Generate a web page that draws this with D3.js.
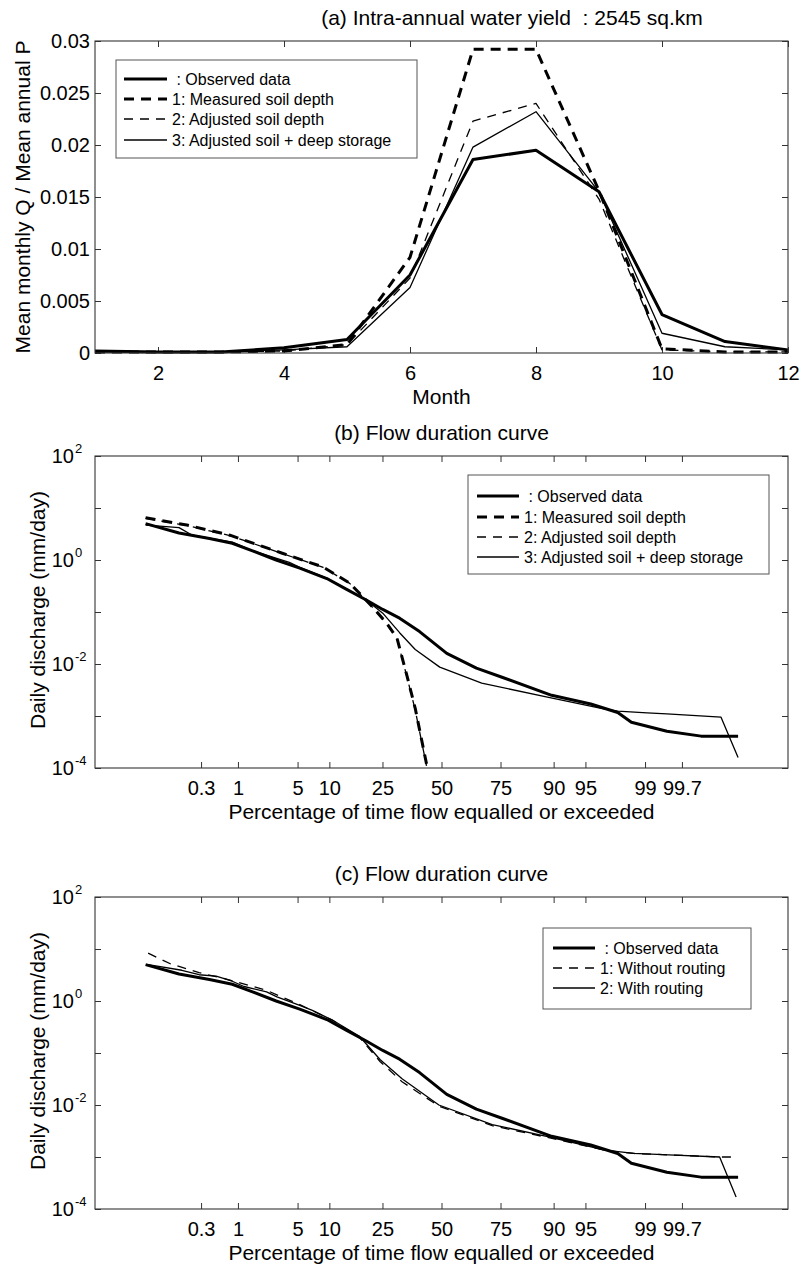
<!DOCTYPE html>
<html>
<head>
<meta charset="utf-8">
<script src="https://cdn.jsdelivr.net/npm/d3@7"></script>
<style>
  html, body { margin: 0; padding: 0; background: #fff; }
  svg { display: block; font-family: "Liberation Sans", Arial, Helvetica, sans-serif; }
  text { fill: #000; white-space: pre; }
</style>
</head>
<body>
<svg id="fig" width="800" height="1267"></svg>
<script>
// ---------- (a) mean monthly runoff ratio ----------
const months = [1, 2, 3, 4, 5, 6, 7, 8, 9, 10, 11, 12];
const monthTicks = [2, 4, 6, 8, 10, 12];
const yieldTicks = [0, 0.005, 0.01, 0.015, 0.02, 0.025, 0.03];
const yieldObserved     = [0.0002, 0.0001, 0.0001, 0.0005, 0.0013, 0.0075, 0.0186, 0.0195, 0.0155, 0.0037, 0.0011, 0.0003];
const yieldMeasuredSoil = [0.0001, 0.0001, 0.0001, 0.0002, 0.0008, 0.0092, 0.0292, 0.0292, 0.0156, 0.0004, 0.0001, 0.0001];
const yieldAdjustedSoil = [0.0001, 0.0001, 0.0001, 0.0002, 0.0008, 0.0072, 0.0223, 0.0240, 0.0148, 0.0003, 0.0001, 0.0001];
const yieldDeepStorage  = [0.0001, 0.0001, 0.0001, 0.0003, 0.0006, 0.0063, 0.0198, 0.0232, 0.0155, 0.0019, 0.0006, 0.0003];

// ---------- flow duration curves: [percent of time exceeded, discharge mm/day] ----------
const pctTicks = [0.3, 1, 5, 10, 25, 50, 75, 90, 95, 99, 99.7];
const decadeTicks = [1e-4, 1e-3, 1e-2, 1e-1, 1e0, 1e1, 1e2];
const labelledExponents = [2, 0, -2, -4];

const fdcObserved = [
  [0.036, 5.0], [0.135, 3.3], [0.40, 2.6], [0.84, 2.1], [1.54, 1.5], [2.94, 1.0],
  [5.26, 0.70], [9.5, 0.44], [13.8, 0.275], [19.5, 0.17], [25.1, 0.112], [31.6, 0.076],
  [40.1, 0.042], [52.4, 0.016], [65.5, 0.0083], [75.8, 0.0055], [89.6, 0.0025],
  [95.6, 0.0017], [97.8, 0.00117], [98.5, 0.00076], [99.5, 0.00051], [99.85, 0.00041], [99.965, 0.00041]
];
const fdcMeasuredSoil = [
  [0.036, 6.5], [0.18, 4.7], [0.78, 3.0], [3.44, 1.35], [8.7, 0.74], [14.7, 0.36],
  [19.0, 0.18], [21.5, 0.126], [26.4, 0.062], [30.5, 0.032], [34.5, 0.0063], [38.2, 0.0014], [43.2, 0.00012]
];
const fdcAdjustedSoil = [
  [0.036, 6.3], [0.18, 4.6], [0.78, 2.95], [3.44, 1.33], [8.7, 0.73], [14.7, 0.355],
  [19.0, 0.178], [21.5, 0.124], [26.4, 0.06], [30.5, 0.031], [34.5, 0.006], [38.2, 0.0013], [43.2, 0.00011]
];
const fdcDeepStorage = [
  [0.036, 4.7], [0.064, 4.5], [0.135, 4.2], [0.22, 3.0], [0.84, 2.2], [1.54, 1.5],
  [4.1, 0.9], [5.26, 0.72], [9.5, 0.45], [13.8, 0.28], [19.5, 0.17], [25.1, 0.095],
  [31.6, 0.04], [38.2, 0.019], [49.2, 0.0087], [67.7, 0.0043], [88.7, 0.0023],
  [96.6, 0.0014], [97.8, 0.00124], [99.06, 0.00115], [99.5, 0.0011], [99.93, 0.00095], [99.965, 0.00016]
];
const fdcNoRouting = [
  [0.040, 8.3], [0.097, 5.2], [0.28, 3.5], [0.62, 2.75], [1.39, 2.0], [2.28, 1.6],
  [5.26, 0.85], [10.6, 0.43], [17.4, 0.20], [24.2, 0.068], [32.6, 0.028], [48.8, 0.0095],
  [71.9, 0.0040], [88.5, 0.0024], [96.9, 0.00135], [98.6, 0.00117], [99.53, 0.0011],
  [99.926, 0.0010], [99.962, 0.0010]
];
const fdcWithRouting = [
  [0.040, 5.0], [0.15, 3.9], [0.28, 3.2], [0.5, 3.0], [0.84, 2.4], [1.2, 1.9],
  [2.28, 1.5], [3.0, 1.2], [5.26, 0.82], [7.0, 0.66], [10.6, 0.43], [17.4, 0.21],
  [24.2, 0.074], [32.6, 0.032], [48.8, 0.010], [71.9, 0.0042], [88.5, 0.0025],
  [96.9, 0.00135], [98.6, 0.00117], [99.53, 0.0011], [99.926, 0.0010], [99.962, 0.00017]
];

// ---------- line styles ----------
const STYLE = {
  observed: { width: 3,   dash: null },
  measured: { width: 3,   dash: "10,7" },
  adjusted: { width: 1.3, dash: "9,7" },
  deep:     { width: 1.3, dash: null }
};

// inverse standard normal CDF (Acklam), used for the probability axis
function probit(p) {
  const a = [-3.969683028665376e+01, 2.209460984245205e+02, -2.759285104469687e+02, 1.383577518672690e+02, -3.066479806614716e+01, 2.506628277459239e+00];
  const b = [-5.447609879822406e+01, 1.615858368580409e+02, -1.556989798598866e+02, 6.680131188771972e+01, -1.328068155288572e+01];
  const c = [-7.784894002430293e-03, -3.223964580411365e-01, -2.400758277161838e+00, -2.549732539343734e+00, 4.374664141464968e+00, 2.938163982698783e+00];
  const d = [7.784695709041462e-03, 3.224671290700398e-01, 2.445134137142996e+00, 3.754408661907416e+00];
  const plow = 0.02425, phigh = 1 - plow;
  let q, r;
  if (p < plow) {
    q = Math.sqrt(-2 * Math.log(p));
    return (((((c[0]*q+c[1])*q+c[2])*q+c[3])*q+c[4])*q+c[5]) / ((((d[0]*q+d[1])*q+d[2])*q+d[3])*q+1);
  }
  if (p <= phigh) {
    q = p - 0.5; r = q * q;
    return (((((a[0]*r+a[1])*r+a[2])*r+a[3])*r+a[4])*r+a[5])*q / (((((b[0]*r+b[1])*r+b[2])*r+b[3])*r+b[4])*r+1);
  }
  q = Math.sqrt(-2 * Math.log(1 - p));
  return -(((((c[0]*q+c[1])*q+c[2])*q+c[3])*q+c[4])*q+c[5]) / ((((d[0]*q+d[1])*q+d[2])*q+d[3])*q+1);
}

const svg = d3.select("#fig");
const L = 95, R = 788;
const AX = "#333";
const TICK_FS = 20, LABEL_FS = 21, LEGEND_FS = 16;

function styleAxis(g) {
  g.select(".domain").remove();
  g.selectAll(".tick line").attr("stroke", AX).attr("stroke-width", 1);
  g.selectAll(".tick text").attr("font-size", TICK_FS).attr("fill", "#000")
    .attr("font-family", "Liberation Sans, Arial, Helvetica, sans-serif");
}

function frame(top, bottom) {
  svg.append("rect").attr("x", L).attr("y", top).attr("width", R - L).attr("height", bottom - top)
    .attr("fill", "none").attr("stroke", AX).attr("stroke-width", 1.1);
}

function drawPath(g, data, lineGen, style) {
  g.append("path").datum(data).attr("d", lineGen)
    .attr("fill", "none").attr("stroke", "#000")
    .attr("stroke-width", style.width)
    .attr("stroke-dasharray", style.dash)
    .attr("stroke-linejoin", "round");
}

function legend(box, rows, entries) {
  const g = svg.append("g");
  g.append("rect").attr("x", box.x0).attr("y", box.y0)
    .attr("width", box.x1 - box.x0).attr("height", box.y1 - box.y0)
    .attr("fill", "#fff").attr("stroke", "#555").attr("stroke-width", 1);
  entries.forEach((e, i) => {
    const cy = rows[i];
    g.append("line").attr("x1", box.lx0).attr("x2", box.lx1).attr("y1", cy).attr("y2", cy)
      .attr("stroke", "#000").attr("stroke-width", e.style.width)
      .attr("stroke-dasharray", e.style.dash);
    g.append("text").attr("x", box.lx1 + 5).attr("y", cy + 6)
      .attr("font-size", LEGEND_FS).text(e.label);
  });
}

// ================= panel (a) =================
{
  const top = 41, bottom = 353;
  const x = d3.scaleLinear().domain([1, 12]).range([L, R]);
  const y = d3.scaleLinear().domain([0, 0.03]).range([bottom, top]);
  const fmt = d => d === 0 ? "0" : String(+d.toFixed(3));

  svg.append("g").attr("transform", `translate(0,${bottom})`)
    .call(d3.axisBottom(x).tickValues(monthTicks).tickSize(-6).tickPadding(13).tickFormat(d3.format("d")))
    .call(styleAxis);
  svg.append("g").attr("transform", `translate(0,${top})`)
    .call(d3.axisTop(x).tickValues(monthTicks).tickSize(-6).tickFormat(""))
    .call(styleAxis);
  svg.append("g").attr("transform", `translate(${L},0)`)
    .call(d3.axisLeft(y).tickValues(yieldTicks).tickSize(-6).tickPadding(5).tickFormat(fmt))
    .call(styleAxis);
  svg.append("g").attr("transform", `translate(${R},0)`)
    .call(d3.axisRight(y).tickValues(yieldTicks).tickSize(-6).tickFormat(""))
    .call(styleAxis);

  const line = d3.line().x((d, i) => x(months[i])).y(d => y(d));
  const g = svg.append("g");
  drawPath(g, yieldObserved, line, STYLE.observed);
  drawPath(g, yieldMeasuredSoil, line, STYLE.measured);
  drawPath(g, yieldAdjustedSoil, line, STYLE.adjusted);
  drawPath(g, yieldDeepStorage, line, STYLE.deep);
  frame(top, bottom);

  svg.append("text").attr("x", 512).attr("y", top - 16).attr("text-anchor", "middle")
    .attr("font-size", LABEL_FS).text("(a) Intra-annual water yield  : 2545 sq.km");
  svg.append("text").attr("x", (L + R) / 2).attr("y", bottom + 51).attr("text-anchor", "middle")
    .attr("font-size", LABEL_FS).text("Month");
  svg.append("text").attr("transform", `translate(30,${(top + bottom) / 2}) rotate(-90)`)
    .attr("text-anchor", "middle").attr("font-size", LABEL_FS).text("Mean monthly Q / Mean annual P");

  legend({ x0: 116, y0: 60, x1: 417, y1: 158, lx0: 124, lx1: 167 }, [79, 99, 119, 140], [
    { label: " : Observed data", style: STYLE.observed },
    { label: "1: Measured soil depth", style: STYLE.measured },
    { label: "2: Adjusted soil depth", style: STYLE.adjusted },
    { label: "3: Adjusted soil + deep storage", style: STYLE.deep }
  ]);
}

// ================= flow duration panels =================
function fdcPanel(top, bottom, title, series, legendBox, legendRows, id) {
  const xz = d3.scaleLinear().domain([-3.96, 3.96]).range([L, R]);
  const y = d3.scaleLog().domain([1e-4, 1e2]).range([bottom, top]);
  const zTicks = pctTicks.map(p => probit(p / 100));

  svg.append("g").attr("transform", `translate(0,${bottom})`)
    .call(d3.axisBottom(xz).tickValues(zTicks).tickSize(-6).tickPadding(13).tickFormat((d, i) => String(pctTicks[i])))
    .call(styleAxis);
  svg.append("g").attr("transform", `translate(0,${top})`)
    .call(d3.axisTop(xz).tickValues(zTicks).tickSize(-6).tickFormat(""))
    .call(styleAxis);
  svg.append("g").attr("transform", `translate(${L},0)`)
    .call(d3.axisLeft(y).tickValues(decadeTicks).tickSize(-6).tickFormat(""))
    .call(styleAxis);
  svg.append("g").attr("transform", `translate(${R},0)`)
    .call(d3.axisRight(y).tickValues(decadeTicks).tickSize(-6).tickFormat(""))
    .call(styleAxis);

  // power-of-ten labels
  labelledExponents.forEach(e => {
    const ty = y(Math.pow(10, e));
    svg.append("text").attr("x", L - 21).attr("y", ty + 7).attr("text-anchor", "end")
      .attr("font-size", TICK_FS).text("10");
    svg.append("text").attr("x", L - 20).attr("y", ty - 3).attr("text-anchor", "start")
      .attr("font-size", 13).text(String(e));
  });

  svg.append("clipPath").attr("id", id).append("rect")
    .attr("x", L).attr("y", top).attr("width", R - L).attr("height", bottom - top);
  const g = svg.append("g").attr("clip-path", `url(#${id})`);
  const line = d3.line().x(d => xz(probit(d[0] / 100))).y(d => y(d[1]));
  series.forEach(s => drawPath(g, s.data, line, s.style));
  frame(top, bottom);

  svg.append("text").attr("x", (L + R) / 2).attr("y", top - 16).attr("text-anchor", "middle")
    .attr("font-size", LABEL_FS).text(title);
  svg.append("text").attr("x", (L + R) / 2).attr("y", bottom + 51).attr("text-anchor", "middle")
    .attr("font-size", LABEL_FS).text("Percentage of time flow equalled or exceeded");
  svg.append("text").attr("transform", `translate(45,${(top + bottom) / 2 - 2}) rotate(-90)`)
    .attr("text-anchor", "middle").attr("font-size", LABEL_FS).text("Daily discharge (mm/day)");

  legend(legendBox, legendRows, series.map(s => ({ label: s.label, style: s.style })));
}

// (b) soil depth scenarios
fdcPanel(456, 768, "(b) Flow duration curve", [
  { data: fdcObserved, style: STYLE.observed, label: " : Observed data" },
  { data: fdcMeasuredSoil, style: STYLE.measured, label: "1: Measured soil depth" },
  { data: fdcAdjustedSoil, style: STYLE.adjusted, label: "2: Adjusted soil depth" },
  { data: fdcDeepStorage, style: STYLE.deep, label: "3: Adjusted soil + deep storage" }
], { x0: 468, y0: 475, x1: 769, y1: 574, lx0: 477, lx1: 519 }, [496, 517, 537, 557], "clipB");

// (c) routing
fdcPanel(897, 1209, "(c) Flow duration curve", [
  { data: fdcObserved, style: STYLE.observed, label: " : Observed data" },
  { data: fdcNoRouting, style: STYLE.adjusted, label: "1: Without routing" },
  { data: fdcWithRouting, style: STYLE.deep, label: "2: With routing" }
], { x0: 543, y0: 928, x1: 751, y1: 1009, lx0: 553, lx1: 595 }, [948, 968, 988], "clipC");
</script>
</body>
</html>
